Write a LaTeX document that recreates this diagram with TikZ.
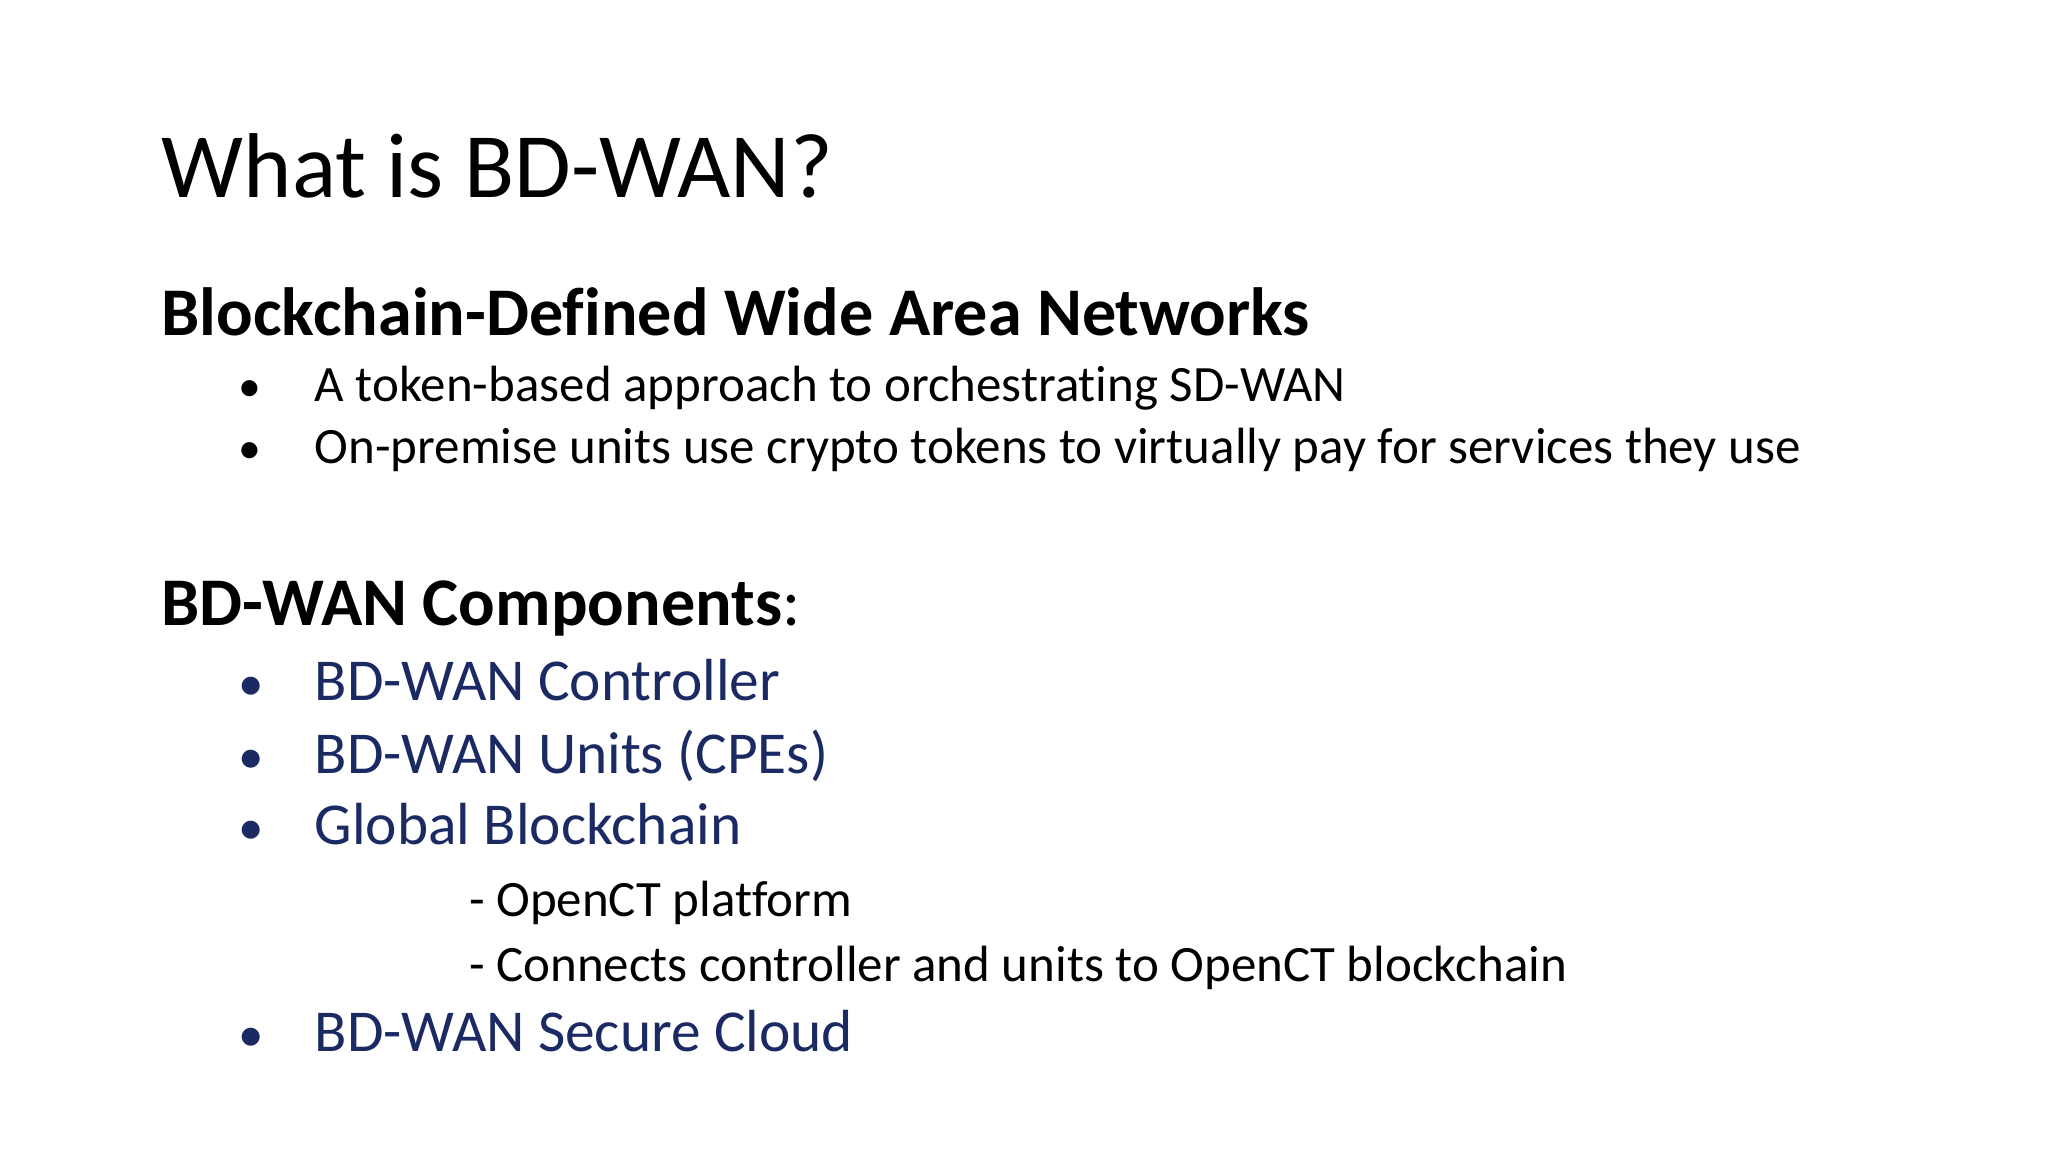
\documentclass[tikz,border=0pt]{standalone}
\usepackage{fontspec}
\setmainfont[Ligatures=NoCommon]{Carlito}
\definecolor{itemblue}{HTML}{1B2A62}
\begin{document}
\begin{tikzpicture}[x=1cm,y=1cm,
  txt/.style={anchor=base west,inner sep=0pt,font=\fontsize{14.5}{18}\selectfont},
  bul/.style={anchor=base west,inner sep=0pt,font=\fontsize{13}{18}\selectfont},
  bigb/.style={anchor=base west,inner sep=0pt,font=\fontsize{19.4}{25}\selectfont\bfseries},
  blue/.style={anchor=base west,inner sep=0pt,text=itemblue,font=\fontsize{16.9}{23}\selectfont},
  bbul/.style={anchor=base west,inner sep=0pt,text=itemblue,font=\fontsize{14.5}{23}\selectfont}]
\useasboundingbox[fill=white] (0,0) rectangle (20.48,-11.52);
\node[anchor=base west,inner sep=0pt,font=\fontsize{26.2}{32}\selectfont] (title) at (1.61,-1.98) {What is BD-WAN?};
\node[bigb] (h1) at (1.61,-3.36) {Blockchain-Defined Wide Area Networks};
\node[bul] (b1) at (2.38,-4.02) {•};
\node[txt] (t1) at (3.141,-4.02) {A token-based approach to orchestrating SD-WAN};
\node[bul] (b2) at (2.38,-4.64) {•};
\node[txt] (t2) at (3.141,-4.64) {On-premise units use crypto tokens to virtually pay for services they use};
\node[bigb] (h2) at (1.61,-6.25) {BD-WAN Components\mdseries:};
\node[bbul] (c1b) at (2.38,-7.0) {•};
\node[blue] (c1) at (3.141,-7.0) {BD-WAN Controller};
\node[bbul] (c2b) at (2.38,-7.73) {•};
\node[blue] (c2) at (3.141,-7.73) {BD-WAN Units (CPEs)};
\node[bbul] (c3b) at (2.38,-8.45) {•};
\node[blue] (c3) at (3.141,-8.45) {Global Blockchain};
\node[txt] (s1) at (4.685,-9.17) {- OpenCT platform};
\node[txt] (s2) at (4.685,-9.81) {- Connects controller and units to OpenCT blockchain};
\node[bbul] (c4b) at (2.38,-10.51) {•};
\node[blue] (c4) at (3.141,-10.51) {BD-WAN Secure Cloud};
\end{tikzpicture}
\end{document}
